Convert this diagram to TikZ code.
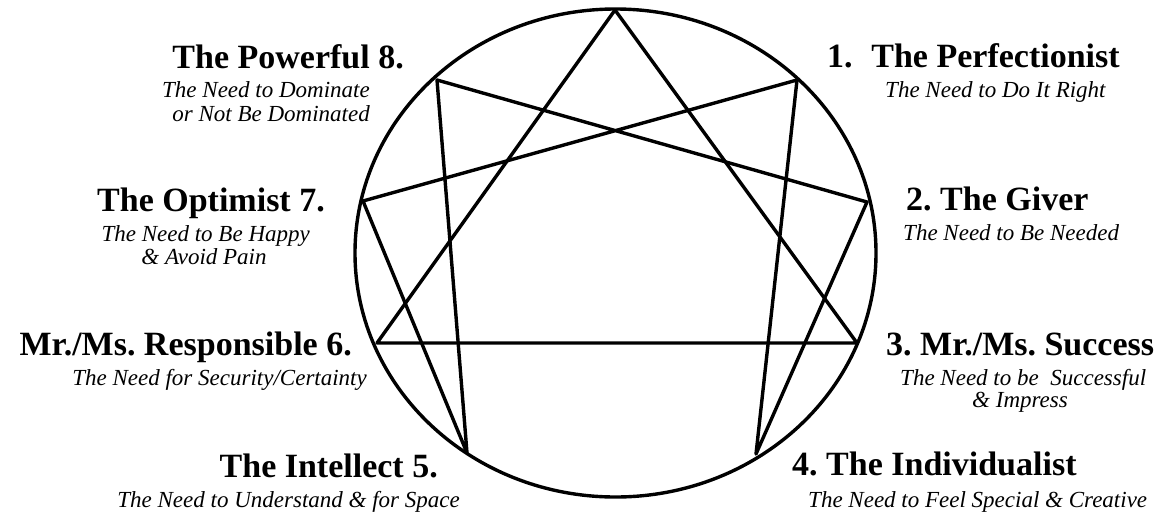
\documentclass[tikz,border=0pt]{standalone}
\usepackage{fontspec}
\setmainfont{Liberation Serif}
\frenchspacing
\begin{document}
\begin{tikzpicture}[x=1pt,y=-1pt,
  ttl/.style={font=\bfseries\fontsize{34}{37}\selectfont, inner sep=0pt},
  sub/.style={font=\itshape\fontsize{23}{23}\selectfont, inner sep=0pt},
  edge/.style={line width=3.4pt, line cap=round, line join=round}]
\useasboundingbox (0,0) rectangle (1161,515);
% enneagram points
\coordinate (c) at (615.5,253);
\coordinate (p9) at (615,10);
\coordinate (p1) at (797,80);
\coordinate (p2) at (867,202);
\coordinate (p3) at (857,343);
\coordinate (p4) at (756,454);
\coordinate (p5) at (467,453);
\coordinate (p6) at (377,343);
\coordinate (p7) at (363,201);
\coordinate (p8) at (437,80);
\draw[edge] (c) ellipse [x radius=260.5, y radius=244];
% triangle
\draw[edge] (p9) -- (p3) -- (p6) -- cycle;
% hexad 1-4-2-8-5-7-1
\draw[edge] (p1) -- (p4) -- (p2) -- (p8) -- (p5) -- (p7) -- cycle;
% left labels
\node[ttl, anchor=base east] (t8) at (404,68) {The Powerful 8.};
\node[sub, anchor=base east] (s8a) at (370,97) {The Need to Dominate};
\node[sub, anchor=base east] (s8b) at (370,121) {or Not Be Dominated};
\node[ttl, anchor=base east] (t7) at (325,211) {The Optimist 7.};
\node[sub, anchor=base east] (s7a) at (310,241) {The Need to Be Happy};
\node[sub, anchor=base] (s7b) at (204,264) {\& Avoid Pain};
\node[ttl, anchor=base east] (t6) at (352,355) {Mr./Ms. Responsible 6.};
\node[sub, anchor=base east] (s6) at (367,385) {The Need for Security/Certainty};
\node[ttl, anchor=base east] (t5) at (438,477) {The Intellect 5.};
\node[sub, anchor=base east] (s5) at (460,507) {The Need to Understand \& for Space};
% right labels
\node[ttl, anchor=base west] (t1) at (827,67) {1.\hspace{0.55em}The Perfectionist};
\node[sub, anchor=base west] (s1) at (885,97) {The Need to Do It Right};
\node[ttl, anchor=base west] (t2) at (906,210) {2. The Giver};
\node[sub, anchor=base west] (s2) at (903,240) {The Need to Be Needed};
\node[ttl, anchor=base west] (t3) at (886,355) {3. Mr./Ms. Success};
\node[sub, anchor=base west] (s3a) at (900,385) {The Need to be\ \ Successful};
\node[sub, anchor=base] (s3b) at (1020,407) {\& Impress};
\node[ttl, anchor=base west] (t4) at (792,475) {4. The Individualist};
\node[sub, anchor=base west] (s4) at (808,507) {The Need to Feel Special \& Creative};
\end{tikzpicture}
\end{document}
